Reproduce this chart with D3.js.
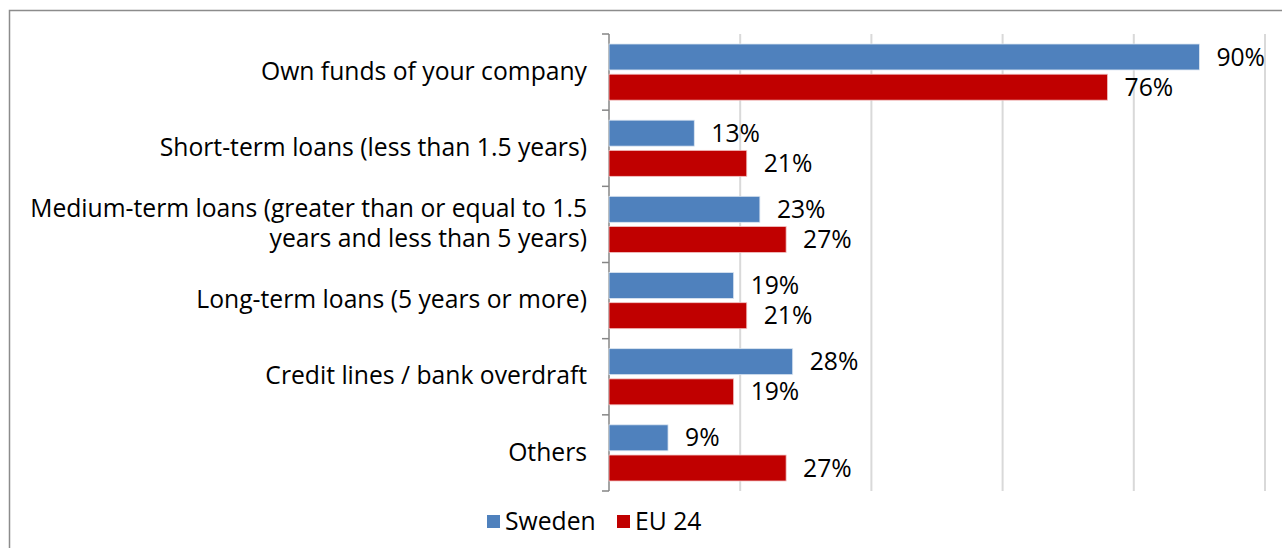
<!DOCTYPE html>
<html>
<head>
<meta charset="utf-8">
<script src="https://cdn.jsdelivr.net/npm/d3@7"></script>
<style>
  html, body { margin: 0; padding: 0; background: #fff; }
  svg { display: block; font-family: "Open Sans", "Noto Sans", sans-serif; }
</style>
</head>
<body>
<svg id="chart" width="1282" height="548"></svg>
<script>
// Sources of finance used: Sweden vs EU 24 (share of companies, %)
const categories = [
  ["Own funds of your company"],
  ["Short-term loans (less than 1.5 years)"],
  ["Medium-term loans (greater than or equal to 1.5", "years and less than 5 years)"],
  ["Long-term loans (5 years or more)"],
  ["Credit lines / bank overdraft"],
  ["Others"]
];
const seriesNames = ["Sweden", "EU 24"];
const sweden = [90, 13, 23, 19, 28, 9];
const eu24 = [76, 21, 27, 21, 19, 27];
const gridTicks = [0, 20, 40, 60, 80, 100];
const colors = ["#4F81BD", "#C00000"];

const svg = d3.select("#chart");
const W = 1282, H = 548;
const FS = 24.7;

// outer chart frame
svg.append("rect")
  .attr("x", 9.5).attr("y", 10.5)
  .attr("width", W + 10).attr("height", H + 10)
  .attr("fill", "#fff").attr("stroke", "#8c8c8c").attr("stroke-width", 1.5);

const plot = { left: 609, right: 1265, top: 34, bottom: 491 };

const x = d3.scaleLinear().domain([0, 100]).range([plot.left, plot.right]);
const idx = d3.range(categories.length);
const y = d3.scaleBand().domain(idx).range([plot.top, plot.bottom]).paddingInner(0).paddingOuter(0);
const inner = d3.scaleBand().domain([0, 1]).range([10, y.bandwidth() - 10]).paddingInner(0.14);

// vertical gridlines
svg.append("g").selectAll("line")
  .data(gridTicks.filter(d => d > 0))
  .join("line")
  .attr("x1", d => x(d)).attr("x2", d => x(d))
  .attr("y1", plot.top).attr("y2", plot.bottom)
  .attr("stroke", "#d9d9d9").attr("stroke-width", 2);

// category axis with boundary ticks
const axisG = svg.append("g");
axisG.append("line")
  .attr("x1", plot.left).attr("x2", plot.left)
  .attr("y1", plot.top).attr("y2", plot.bottom)
  .attr("stroke", "#868686").attr("stroke-width", 1.5);
axisG.selectAll("line.tick")
  .data(d3.range(categories.length + 1))
  .join("line").attr("class", "tick")
  .attr("x1", plot.left - 7).attr("x2", plot.left)
  .attr("y1", i => plot.top + i * y.bandwidth())
  .attr("y2", i => plot.top + i * y.bandwidth())
  .attr("stroke", "#868686").attr("stroke-width", 1.5);

// category labels
const labelG = svg.append("g");
categories.forEach((lines, i) => {
  const cy = y(i) + y.bandwidth() / 2;
  const lh = 30;
  const t = labelG.append("text")
    .attr("x", plot.left - 22)
    .attr("text-anchor", "end")
    .attr("font-size", FS)
    .attr("fill", "#000");
  lines.forEach((ln, k) => {
    t.append("tspan")
      .attr("x", plot.left - 22)
      .attr("y", cy + (k - (lines.length - 1) / 2) * lh - 1)
      .attr("dy", "0.35em")
      .text(ln);
  });
});

// bars and value labels
const series = [sweden, eu24];
series.forEach((vals, s) => {
  const g = svg.append("g");
  g.selectAll("rect")
    .data(vals)
    .join("rect")
    .attr("x", x(0))
    .attr("y", (d, i) => y(i) + inner(s))
    .attr("width", d => x(d) - x(0))
    .attr("height", inner.bandwidth())
    .attr("fill", colors[s])
    .attr("stroke", s === 0 ? "#dbe5f1" : "#f2c4c4")
    .attr("stroke-width", 0.8);
  g.selectAll("text")
    .data(vals)
    .join("text")
    .attr("x", d => x(d) + 17)
    .attr("y", (d, i) => y(i) + inner(s) + inner.bandwidth() / 2)
    .attr("dy", "0.35em")
    .attr("font-size", FS)
    .attr("fill", "#000")
    .text(d => d + "%");
});

// legend
const legend = svg.append("g");
const legendItems = [
  { name: seriesNames[0], color: colors[0], x: 487 },
  { name: seriesNames[1], color: colors[1], x: 617 }
];
legendItems.forEach(it => {
  legend.append("rect")
    .attr("x", it.x).attr("y", 515)
    .attr("width", 13).attr("height", 13)
    .attr("fill", it.color);
  legend.append("text")
    .attr("x", it.x + 18).attr("y", 521.5)
    .attr("dy", "0.35em")
    .attr("font-size", FS)
    .attr("fill", "#000")
    .text(it.name);
});
</script>
</body>
</html>
